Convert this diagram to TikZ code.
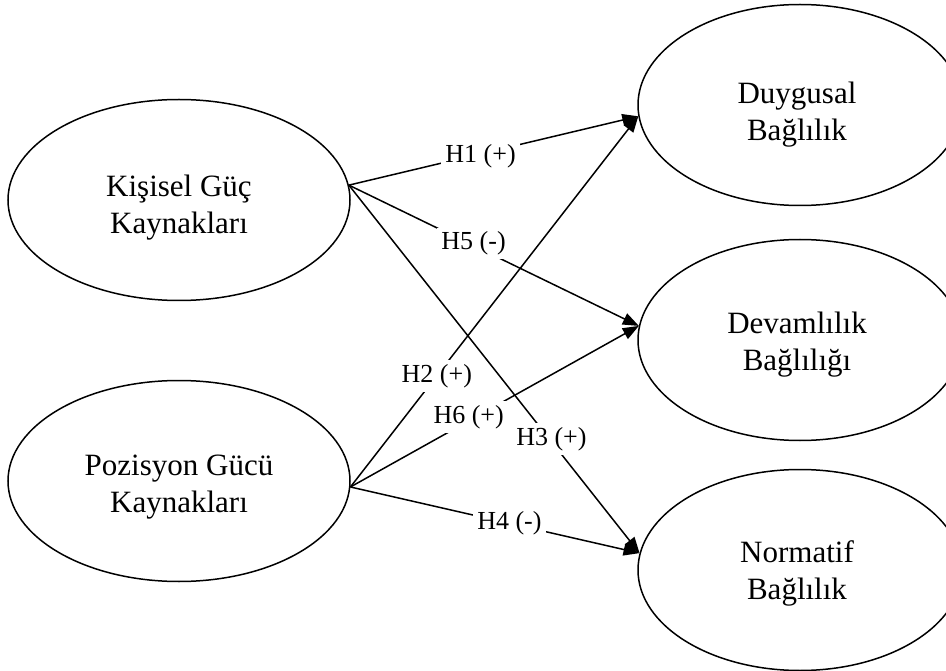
\documentclass[tikz,border=0pt]{standalone}
\usepackage{fontspec}
\setmainfont{Liberation Serif}
\usetikzlibrary{arrows.meta,shapes.geometric}
\begin{document}
\begin{tikzpicture}[x=1pt,y=-1pt,
  construct/.style={draw, line width=1.5pt, ellipse, minimum width=342pt,
    minimum height=201pt, inner sep=0pt},
  ctext/.style={align=center, inner sep=0pt, font=\fontsize{31}{37}\selectfont},
  effect/.style={line width=1.5pt, -{Triangle[length=16pt,width=12pt]}},
  hyp/.style={fill=white, inner sep=4pt, font=\fontsize{26}{30}\selectfont}]
\clip (0,0) rectangle (946,671);
\useasboundingbox (0,0) rectangle (946,671);

% constructs
\node[construct] (kis) at (179,200) {};
\node[construct] (poz) at (179,481) {};
\node[construct, minimum width=324pt] (duy) at (800,105) {};
\node[construct, minimum width=324pt] (dev) at (800,340) {};
\node[construct, minimum width=324pt] (nor) at (800,570) {};

% construct names
\node[ctext] (kist) at (179,208) {Kişisel Güç\\Kaynakları};
\node[ctext] (pozt) at (179,487) {Pozisyon Gücü\\Kaynakları};
\node[ctext] (duyt) at (797,115) {Duygusal\\Bağlılık};
\node[ctext] (devt) at (797,345) {Devamlılık\\Bağlılığı};
\node[ctext] (nort) at (797,573) {Normatif\\Bağlılık};

% hypothesised effects of personal power
\draw[effect] (kis.5) -- node[hyp, pos=0.455, yshift=-2pt] {H1 (+)} (duy.184.5);
\draw[effect] (kis.5) -- node[hyp, pos=0.43, yshift=2pt] {H5 (-)} (dev.175.4);
\draw[effect] (kis.5) -- node[hyp, pos=0.69, xshift=2pt] {H3 (+)} (nor.174.7);

% hypothesised effects of position power
\draw[effect] (poz.-2.4) -- node[hyp, pos=0.30] {H2 (+)} (duy.184.5);
\draw[effect] (poz.-2.4) -- node[hyp, pos=0.41, yshift=4pt] {H6 (+)} (dev.175.4);
\draw[effect] (poz.-2.4) -- node[hyp, pos=0.55] {H4 (-)} (nor.174.7);
\end{tikzpicture}
\end{document}
